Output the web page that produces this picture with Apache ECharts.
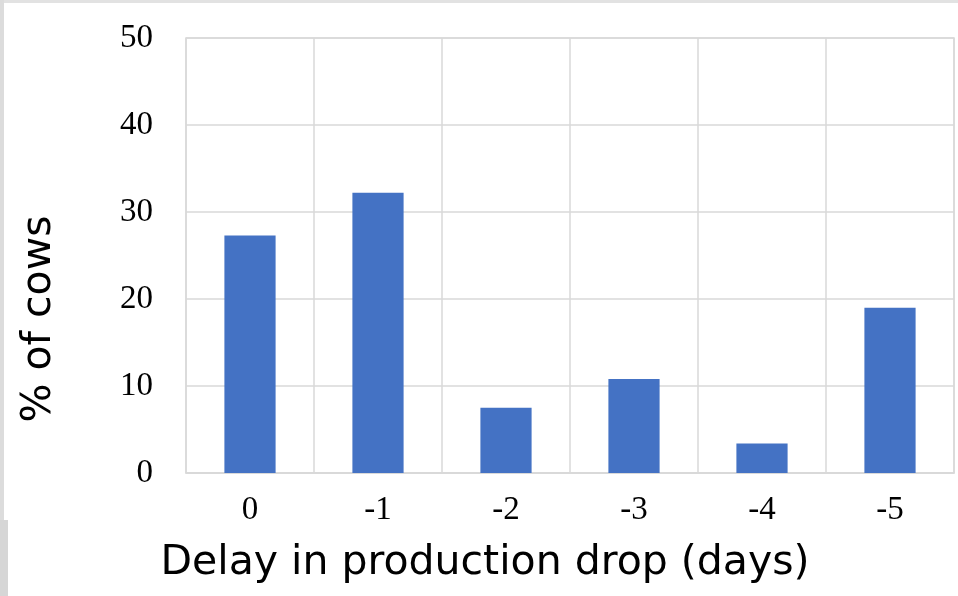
<!DOCTYPE html>
<html>
<head>
<meta charset="utf-8">
<script src="https://cdn.jsdelivr.net/npm/echarts@6/dist/echarts.min.js"></script>
<style>
html,body{margin:0;padding:0;background:#fff;}
#c{width:958px;height:596px;}
</style>
</head>
<body>
<div id="c"></div>
<script>
var categories = ['0', '-1', '-2', '-3', '-4', '-5'];
var percentCows = [27.3, 32.2, 7.5, 10.8, 3.4, 19.0];
var yTicks = [0, 10, 20, 30, 40, 50];
var xTitle = 'Delay in production drop (days)';
var yTitle = '% of cows';

var chart = echarts.init(document.getElementById('c'), null, {renderer: 'canvas'});
var gridColor = '#d9d9d9';
chart.setOption({
  animation: false,
  backgroundColor: '#ffffff',
  grid: {left: 186, top: 38, right: 4, bottom: 123, show: true, borderColor: gridColor, borderWidth: 1.5},
  xAxis: {
    type: 'category',
    data: categories,
    boundaryGap: true,
    axisLine: {show: true, lineStyle: {color: gridColor, width: 1.5}},
    axisTick: {show: false},
    splitLine: {show: true, lineStyle: {color: gridColor, width: 1.5}},
    axisLabel: {color: '#000', fontFamily: 'Liberation Serif', fontSize: 33, margin: 21}
  },
  yAxis: {
    type: 'value',
    min: yTicks[0],
    max: yTicks[yTicks.length - 1],
    interval: 10,
    axisLine: {show: false},
    axisTick: {show: false},
    splitLine: {show: true, lineStyle: {color: gridColor, width: 1.5}},
    axisLabel: {color: '#000', fontFamily: 'Liberation Serif', fontSize: 33, margin: 33}
  },
  graphic: [
    {type: 'rect', shape: {x: 0, y: 0, width: 958, height: 3}, style: {fill: '#e2e2e2'}, silent: true},
    {type: 'rect', shape: {x: 0, y: 0, width: 4, height: 520}, style: {fill: '#dcdcdc'}, silent: true},
    {type: 'rect', shape: {x: 0, y: 520, width: 8, height: 76}, style: {fill: '#d6d6d6'}, silent: true},
    {type: 'text', x: 485, y: 563, style: {text: xTitle, fill: '#000', font: '41px "DejaVu Sans"', textAlign: 'center', textVerticalAlign: 'middle'}},
    {type: 'text', x: 39, y: 319, rotation: Math.PI / 2, style: {text: yTitle, fill: '#000', font: '41px "DejaVu Sans"', textAlign: 'center', textVerticalAlign: 'middle'}}
  ],
  series: [{
    type: 'bar',
    data: percentCows,
    barWidth: '40%',
    itemStyle: {color: '#4472C4'}
  }]
});
</script>
</body>
</html>
